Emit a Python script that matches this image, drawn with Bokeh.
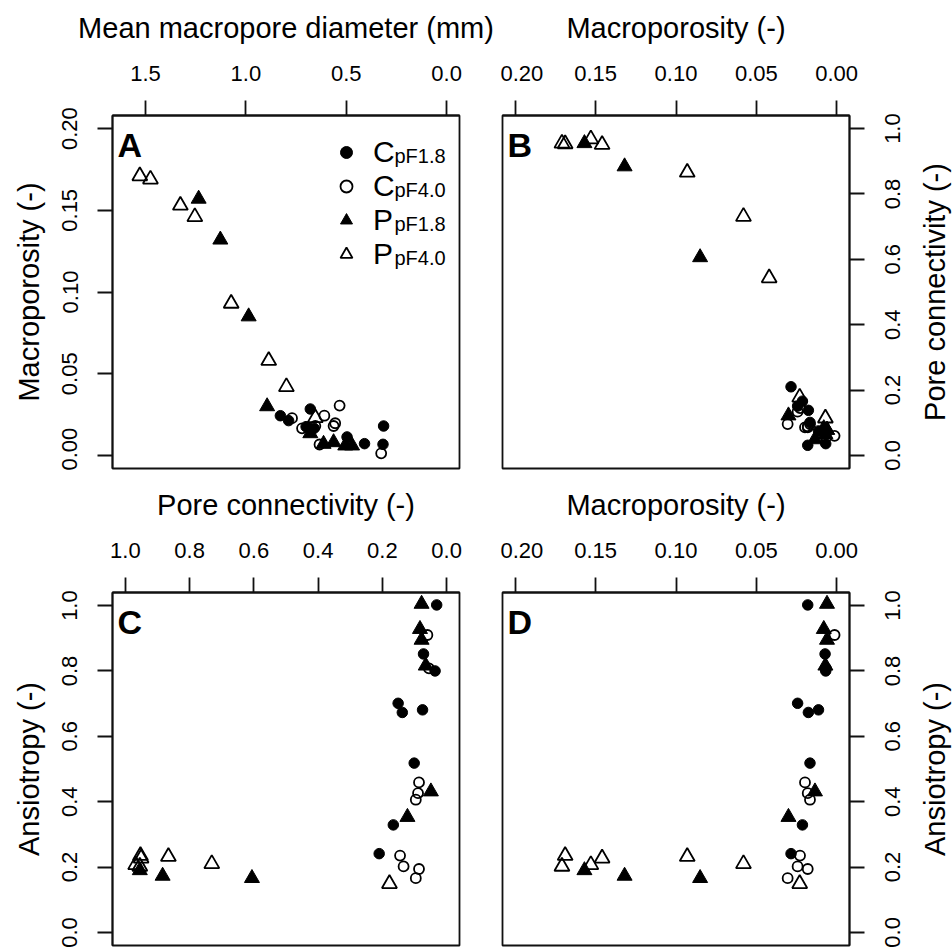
import math
from bokeh.plotting import figure
from bokeh.models import Range1d, FixedTicker, Legend, LegendItem, Label, ColumnDataSource
from bokeh.layouts import gridplot, row, column
from bokeh.embed import file_html
from bokeh.resources import INLINE

nan = float("nan")

# ---------------- data ----------------
# C, pF 1.8  (filled circles)
c18_diameter = [0.314, 0.409, 0.317, 0.828, 0.700, 0.496, 0.660, 0.787, 0.679]
c18_macroporosity = [0.0180, 0.0072, 0.0068, 0.0243, 0.0176, 0.0113, 0.0166, 0.0213, 0.0284]
c18_connectivity = [0.031, 0.072, 0.036, 0.151, 0.138, 0.075, 0.101, 0.166, 0.210]
c18_anisotropy = [1.002, 0.852, 0.800, 0.701, 0.673, 0.681, 0.518, 0.329, 0.241]

# C, pF 4.0  (open circles)
c40_diameter = [0.326, 0.633, 0.555, 0.563, 0.720, 0.770, 0.609, 0.654, 0.533]
c40_macroporosity = [0.0013, 0.0067, 0.0197, 0.0180, 0.0166, 0.0228, 0.0243, 0.0180, 0.0305]
c40_connectivity = [0.060, 0.055, 0.086, 0.089, 0.096, 0.145, 0.134, 0.086, 0.096]
c40_anisotropy = [0.910, 0.808, 0.459, 0.426, 0.406, 0.235, 0.202, 0.194, 0.166]

# P, pF 1.8  (filled triangles)
p18_diameter = [1.235, 1.127, 0.986, 0.894, 0.679, 0.505, 0.563, 0.471, 0.613]
p18_macroporosity = [0.157, 0.132, 0.085, 0.030, 0.0135, 0.0060, 0.0080, 0.0060, 0.0070]
p18_connectivity = [0.955, 0.884, 0.606, 0.122, 0.049, 0.078, 0.083, 0.078, 0.065]
p18_anisotropy = [0.190, 0.173, 0.166, 0.353, 0.431, 1.005, 0.928, 0.895, 0.816]

# P, pF 4.0  (open triangles)
p40_diameter = [1.528, 1.475, 1.326, 1.254, 1.073, 0.886, 0.798, 0.654, 0.490]
p40_macroporosity = [0.171, 0.169, 0.153, 0.146, 0.093, 0.058, 0.042, 0.023, 0.007]
p40_connectivity = [0.955, 0.953, 0.968, 0.951, 0.866, 0.731, 0.543, 0.178, 0.114]
p40_anisotropy = [0.202, 0.235, 0.207, 0.227, 0.232, 0.210, nan, 0.149, nan]

group_letters = ["C", "C", "P", "P"]
group_subscripts = ["pF1.8", "pF4.0", "pF1.8", "pF4.0"]
panel_letters = ["A", "B", "C", "D"]

diameter_ticks = [0.0, 0.5, 1.0, 1.5]
diameter_tick_labels = ["0.0", "0.5", "1.0", "1.5"]
porosity_ticks = [0.0, 0.05, 0.10, 0.15, 0.20]
porosity_tick_labels = ["0.00", "0.05", "0.10", "0.15", "0.20"]
unit_ticks = [0.0, 0.2, 0.4, 0.6, 0.8, 1.0]
unit_tick_labels = ["0.0", "0.2", "0.4", "0.6", "0.8", "1.0"]

diameter_lim = (1.6, 0.0)
porosity_lim_x = (0.2, 0.0)
porosity_lim_y = (0.0, 0.2)
connectivity_lim_x = (1.0, 0.0)
unit_lim = (0.0, 1.0)

title_diameter = "Mean macropore diameter (mm)"
title_porosity = "Macroporosity (-)"
title_connectivity = "Pore connectivity (-)"
title_anisotropy = "Ansiotropy (-)"

# ---------------- styling ----------------
FONT = "Liberation Sans"
INK = "#111111"
FW, FH = 347, 353
STRIP_W = 87
TICK_FS = "22px"
TITLE_FS = "29px"


def r_range(lim):
    a, b = lim
    pad = 0.04 * (b - a)
    return Range1d(a - pad, b + pad)


def base_axis(ax, ticks):
    ax.ticker = FixedTicker(ticks=ticks)
    ax.major_tick_out = 15
    ax.major_tick_in = 0
    ax.minor_tick_out = 0
    ax.minor_tick_in = 0
    ax.major_tick_line_width = 1.8
    ax.major_tick_line_color = INK
    ax.axis_line_width = 1.8
    ax.axis_line_color = INK
    ax.major_label_text_font = FONT
    ax.major_label_text_font_size = TICK_FS
    ax.major_label_text_color = "black"
    ax.axis_label_text_font = FONT
    ax.axis_label_text_font_size = TITLE_FS
    ax.axis_label_text_font_style = "normal"
    ax.axis_label_text_color = "black"


def labelled_axis(ax, ticks, labels, title, label_standoff, title_standoff, orientation=None):
    base_axis(ax, ticks)
    ax.major_label_overrides = {t: l for t, l in zip(ticks, labels)}
    ax.axis_label = title
    ax.major_label_standoff = label_standoff
    ax.axis_label_standoff = title_standoff
    if orientation is not None:
        ax.major_label_orientation = orientation


def panel(xlim, ylim, yside, borders, xticks, xlabels, xtitle, yticks, ylabels, ytitle):
    l, r, t, b = borders
    p = figure(frame_width=FW, frame_height=FH,
               x_range=r_range(xlim), y_range=r_range(ylim),
               x_axis_location="above", y_axis_location=yside,
               output_backend="svg", toolbar_location=None, tools="",
               min_border_left=l, min_border_right=r, min_border_top=t, min_border_bottom=b,
               background_fill_color="white", border_fill_color="white")
    p.xgrid.visible = False
    p.ygrid.visible = False
    p.outline_line_color = INK
    p.outline_line_width = 1.8
    labelled_axis(p.xaxis[0], xticks, xlabels, xtitle, 20, 19)
    if yside == "left":
        labelled_axis(p.yaxis[0], yticks, ylabels, ytitle, 20, 15, orientation="vertical")
    else:
        ax = p.yaxis[0]
        base_axis(ax, yticks)
        ax.major_label_overrides = {t: "" for t in yticks}
        ax.major_label_standoff = 0
    return p


def right_strip(ylim, borders, yticks, ylabels, ytitle, extra=20):
    """Texts of a right-hand axis, reading upwards as in the reference.
    The strip's frame reaches `extra` px above and all the way below the panel frame,
    with its y range widened to keep the panel's scale."""
    t, b = borders
    base = r_range(ylim)
    per_px = (base.end - base.start) / FH
    yr = Range1d(base.start - b * per_px, base.end + extra * per_px)
    s = figure(frame_width=STRIP_W, frame_height=FH + extra + b,
               x_range=Range1d(0, STRIP_W), y_range=yr,
               x_axis_location=None, y_axis_location=None,
               output_backend="svg", toolbar_location=None, tools="",
               min_border_left=0, min_border_right=0, min_border_top=t - extra, min_border_bottom=0,
               background_fill_color="white", border_fill_color="white")
    s.xgrid.visible = False
    s.ygrid.visible = False
    s.outline_line_color = None
    for tk, lab in zip(yticks, ylabels):
        s.add_layout(Label(x=27, y=tk, x_units="screen", y_units="data", text=lab,
                           angle=math.pi / 2, text_align="center", text_baseline="middle",
                           text_font=FONT, text_font_size=TICK_FS, text_color="black"))
    s.add_layout(Label(x=69, y=b + FH / 2, x_units="screen", y_units="screen", text=ytitle,
                       angle=math.pi / 2, text_align="center", text_baseline="middle",
                       text_font=FONT, text_font_size=TITLE_FS, text_color="black"))
    return s


def add_points(p, xs, ys):
    rs = []
    specs = [
        dict(marker="circle", size=10.5, fill_color="black", line_color="black", line_width=1),
        dict(marker="circle", size=10, fill_color=None, line_color="black", line_width=1.8),
        dict(marker="triangle", size=15, fill_color="black", line_color="black", line_width=1),
        dict(marker="triangle", size=15, fill_color=None, line_color="black", line_width=1.8),
    ]
    for x, y, s in zip(xs, ys, specs):
        src = ColumnDataSource(dict(x=x, y=y))
        rs.append(p.scatter("x", "y", source=src, **s))
    return rs


def add_letter(p, letter):
    p.add_layout(Label(x=5, y=FH - 29, x_units="screen", y_units="screen", text=letter,
                       text_font=FONT, text_font_size="34px", text_font_style="bold",
                       text_baseline="middle", text_align="left", text_color="black"))


diam = [c18_diameter, c40_diameter, p18_diameter, p40_diameter]
poro = [c18_macroporosity, c40_macroporosity, p18_macroporosity, p40_macroporosity]
conn = [c18_connectivity, c40_connectivity, p18_connectivity, p40_connectivity]
anis = [c18_anisotropy, c40_anisotropy, p18_anisotropy, p40_anisotropy]

pA = panel(diameter_lim, porosity_lim_y, "left", (112, 41, 115, 2),
           diameter_ticks, diameter_tick_labels, title_diameter,
           porosity_ticks, porosity_tick_labels, title_porosity)
pB = panel(porosity_lim_x, unit_lim, "right", (2, 16, 115, 2),
           porosity_ticks, porosity_tick_labels, title_porosity,
           unit_ticks, unit_tick_labels, title_connectivity)
sB = right_strip(unit_lim, (115, 2), unit_ticks, unit_tick_labels, title_connectivity)
pC = panel(connectivity_lim_x, unit_lim, "left", (112, 41, 122, 3),
           unit_ticks, unit_tick_labels, title_connectivity,
           unit_ticks, unit_tick_labels, title_anisotropy)
pD = panel(porosity_lim_x, unit_lim, "right", (2, 16, 122, 3),
           porosity_ticks, porosity_tick_labels, title_porosity,
           unit_ticks, unit_tick_labels, title_anisotropy)
sD = right_strip(unit_lim, (122, 3), unit_ticks, unit_tick_labels, title_anisotropy)

rA = add_points(pA, diam, poro)
add_points(pB, poro, conn)
add_points(pC, conn, anis)
add_points(pD, poro, anis)

for p, letter in zip([pA, pB, pC, pD], panel_letters):
    add_letter(p, letter)

# legend in panel A (group letter via Legend, subscripts as labels)
ROW = 34
legend = Legend(items=[LegendItem(label=g, renderers=[r]) for g, r in zip(group_letters, rA)],
                location=(219, 197), padding=0, spacing=0, margin=0,
                glyph_width=30, glyph_height=ROW, label_height=ROW, label_standoff=12,
                label_text_font=FONT, label_text_font_size="30px", label_text_color="black",
                border_line_color=None, background_fill_alpha=0)
pA.add_layout(legend)
for i, sub in enumerate(group_subscripts):
    pA.add_layout(Label(x=282, y=FH - (19.7 + ROW * i + ROW / 2 + 4), x_units="screen", y_units="screen",
                        text=sub, text_font=FONT, text_font_size="20px", text_color="black",
                        text_baseline="middle", text_align="left"))

grid = gridplot([[pA, pB], [pC, pD]], toolbar_location=None)
layout = row(grid, column(sB, sD))

open("out.html", "w").write(file_html(layout, INLINE))
